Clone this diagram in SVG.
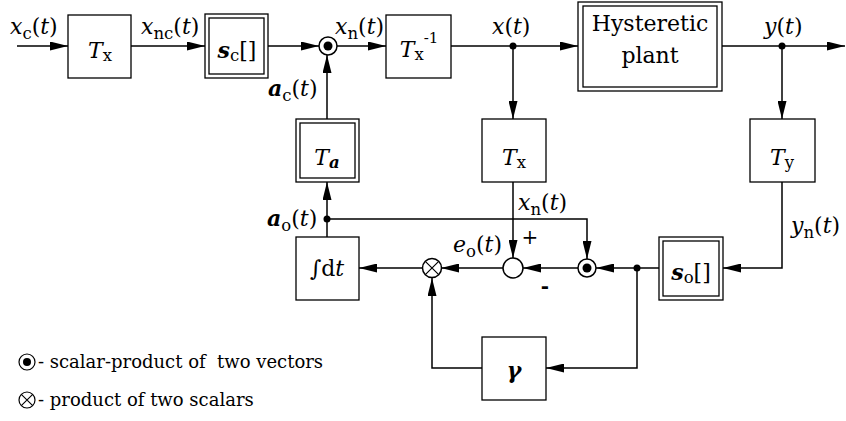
<svg xmlns="http://www.w3.org/2000/svg" width="846" height="421" viewBox="0 0 846 421">
<defs>
<marker id="ah" markerUnits="userSpaceOnUse" markerWidth="18" markerHeight="9" refX="18" refY="4.5" orient="auto">
<path d="M0,0 L18,4.5 L0,9 z" fill="#000"/>
</marker>
<style>
text{font-family:'DejaVu Serif','Liberation Serif',serif;font-size:22px;fill:#000}
.i{font-style:italic}
.bi{font-style:italic;font-weight:bold}
.sub{font-size:16.5px}
.sup{font-size:15px}
.c{text-anchor:middle}
.box{fill:#fff;stroke:#000;stroke-width:1.3}
.ln{fill:none;stroke:#000;stroke-width:1.5}
.ar{fill:none;stroke:#000;stroke-width:1.5;marker-end:url(#ah)}
.dot{fill:#000}
.circ{fill:#fff;stroke:#000;stroke-width:1.5}
.leg{font-size:18px}
</style>
</defs>
<rect width="846" height="421" fill="#fff"/>

<g id="connectors">
<line class="ar" x1="17" y1="46" x2="68" y2="46"/>
<line class="ar" x1="131" y1="46" x2="205" y2="46"/>
<line class="ar" x1="268" y1="46" x2="319" y2="46"/>
<line class="ar" x1="337" y1="46" x2="386" y2="46"/>
<line class="ar" x1="451" y1="46" x2="578" y2="46"/>
<line class="ar" x1="722" y1="46" x2="845" y2="46"/>
<line class="ar" x1="513" y1="46" x2="513" y2="119"/>
<line class="ar" x1="782" y1="46" x2="782" y2="119"/>
<polyline class="ar" points="782,182 782,268 723,268"/>
<line class="ar" x1="659" y1="268" x2="596" y2="268"/>
<line class="ar" x1="578" y1="268" x2="523" y2="268"/>
<line class="ar" x1="503" y1="268" x2="441" y2="268"/>
<line class="ar" x1="422" y1="268" x2="359" y2="268"/>
<line class="ar" x1="327" y1="237" x2="327" y2="182"/>
<line class="ar" x1="327" y1="119" x2="327" y2="55"/>
<polyline class="ar" points="327,219 587,219 587,259"/>
<line class="ar" x1="513" y1="182" x2="513" y2="258"/>
<polyline class="ar" points="637,268 637,368 546,368"/>
<polyline class="ar" points="482,368 432,368 432,278"/>
<circle class="dot" cx="513" cy="46" r="3.5"/>
<circle class="dot" cx="782" cy="46" r="3.5"/>
<circle class="dot" cx="327" cy="219" r="3.5"/>
<circle class="dot" cx="637" cy="268" r="3.5"/>
</g>

<g id="labels">
<text x="10" y="34"><tspan class="i">x</tspan><tspan class="sub" dy="5">c</tspan><tspan dy="-5">(</tspan><tspan class="i">t</tspan>)</text>
<text x="141" y="34"><tspan class="i">x</tspan><tspan class="sub" dy="5">nc</tspan><tspan dy="-5">(</tspan><tspan class="i">t</tspan>)</text>
<text x="335" y="34"><tspan class="i">x</tspan><tspan class="sub" dy="5">n</tspan><tspan dy="-5">(</tspan><tspan class="i">t</tspan>)</text>
<text x="492" y="34"><tspan class="i">x</tspan>(<tspan class="i">t</tspan>)</text>
<text x="764" y="34"><tspan class="i">y</tspan>(<tspan class="i">t</tspan>)</text>
<text x="268" y="96"><tspan class="bi">a</tspan><tspan class="sub" dy="5">c</tspan><tspan dy="-5">(</tspan><tspan class="i">t</tspan>)</text>
<text x="267" y="226"><tspan class="bi">a</tspan><tspan class="sub" dy="5">o</tspan><tspan dy="-5">(</tspan><tspan class="i">t</tspan>)</text>
<text x="518" y="210"><tspan class="i">x</tspan><tspan class="sub" dy="5">n</tspan><tspan dy="-5">(</tspan><tspan class="i">t</tspan>)</text>
<text x="453" y="252"><tspan class="i">e</tspan><tspan class="sub" dy="5">o</tspan><tspan dy="-5">(</tspan><tspan class="i">t</tspan>)</text>
<text x="791" y="233"><tspan class="i">y</tspan><tspan class="sub" dy="5">n</tspan><tspan dy="-5">(</tspan><tspan class="i">t</tspan>)</text>
<text class="c" x="530" y="244" style="font-size:20px">+</text>
<text class="c" x="545" y="293" style="font-size:20px;font-weight:bold">-</text>
</g>

<g id="Tx1">
<rect class="box" x="68" y="15" width="63" height="63"/>
<text class="c" x="100" y="58"><tspan class="i">T</tspan><tspan class="sub" dy="3">x</tspan></text>
</g>

<g id="sc">
<rect class="box" x="205" y="14" width="63" height="64"/>
<rect class="box" x="209" y="18" width="55" height="56"/>
<text class="c" x="237" y="58"><tspan class="bi">s</tspan><tspan class="sub" dy="3">c</tspan><tspan dy="-3">[]</tspan></text>
</g>

<g id="sp1">
<circle class="circ" cx="328" cy="46" r="9"/>
<circle class="dot" cx="328" cy="46" r="4.5"/>
</g>

<g id="Txinv">
<rect class="box" x="386" y="15" width="65" height="63"/>
<text class="c" x="419" y="57"><tspan class="i">T</tspan><tspan class="sub" dy="3">x</tspan><tspan class="sup" dy="-17">-1</tspan></text>
</g>

<g id="plant">
<rect class="box" x="578" y="2" width="144" height="89"/>
<rect class="box" x="583" y="6" width="134" height="81"/>
<text class="c" x="650" y="31">Hysteretic</text>
<text class="c" x="650" y="63">plant</text>
</g>

<g id="Ta">
<rect class="box" x="296" y="119" width="63" height="63"/>
<rect class="box" x="300" y="123" width="55" height="55"/>
<text class="c" x="327" y="165"><tspan class="i">T</tspan><tspan class="bi sub" dy="3">a</tspan></text>
</g>

<g id="Tx2">
<rect class="box" x="482" y="119" width="64" height="63"/>
<text class="c" x="514" y="165"><tspan class="i">T</tspan><tspan class="sub" dy="3">x</tspan></text>
</g>

<g id="Ty">
<rect class="box" x="750" y="119" width="65" height="63"/>
<text class="c" x="782" y="165"><tspan class="i">T</tspan><tspan class="sub" dy="3">y</tspan></text>
</g>

<g id="integ">
<rect class="box" x="296" y="237" width="63" height="63"/>
<text class="c" x="327" y="276">∫d<tspan class="i">t</tspan></text>
</g>

<g id="mult">
<circle class="circ" cx="432" cy="268" r="9.5"/>
<path class="ln" d="M425.3,261.3 L438.7,274.7 M438.7,261.3 L425.3,274.7" style="stroke-width:1.2"/>
</g>

<g id="sum">
<circle class="circ" cx="513" cy="268" r="10"/>
</g>

<g id="sp2">
<circle class="circ" cx="587" cy="268" r="9"/>
<circle class="dot" cx="587" cy="268" r="4.5"/>
</g>

<g id="so">
<rect class="box" x="659" y="237" width="64" height="63"/>
<rect class="box" x="663" y="241" width="56" height="55"/>
<text class="c" x="691" y="280"><tspan class="bi">s</tspan><tspan class="sub" dy="3">o</tspan><tspan dy="-3">[]</tspan></text>
</g>

<g id="gamma">
<rect class="box" x="482" y="337" width="64" height="63"/>
<text class="c" x="514" y="378"><tspan class="bi">γ</tspan></text>
</g>

<g id="legend">
<circle class="circ" cx="27" cy="362" r="8" style="stroke-width:1.2"/>
<circle class="dot" cx="27" cy="362" r="4"/>
<text class="leg" x="38" y="368" xml:space="preserve">- scalar-product of  two vectors</text>
<circle class="circ" cx="27" cy="400" r="8" style="stroke-width:1.2"/>
<path class="ln" d="M21.3,394.3 L32.7,405.7 M32.7,394.3 L21.3,405.7" style="stroke-width:1.1"/>
<text class="leg" x="38" y="406">- product of two scalars</text>
</g>
</svg>
